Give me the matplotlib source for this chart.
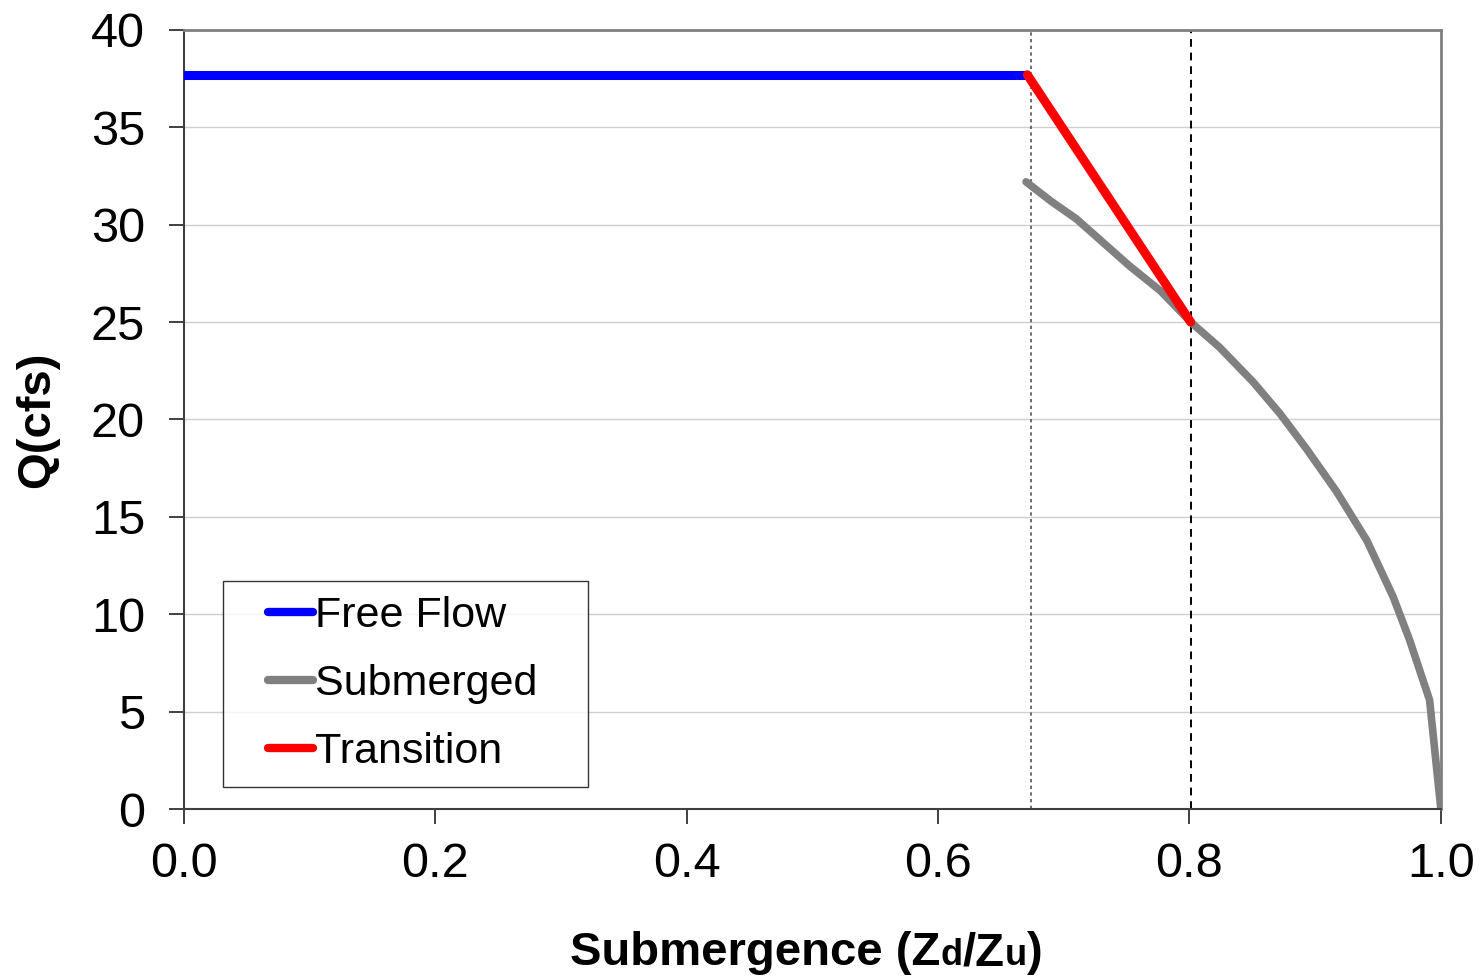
import matplotlib
matplotlib.use("Agg")
import matplotlib.pyplot as plt
from matplotlib.legend_handler import HandlerLine2D

plt.rcParams['font.family'] = ['Liberation Sans', 'DejaVu Sans']

# Data
free_x = [0.0, 0.671]
free_q = [37.7, 37.7]

trans_x = [0.671, 0.801]
trans_q = [37.7, 25.0]

sub_x = [0.670, 0.690, 0.710, 0.731, 0.752, 0.777, 0.801, 0.824, 0.851, 0.872,
         0.893, 0.917, 0.941, 0.962, 0.975, 0.991, 1.000]
sub_q = [32.2, 31.2, 30.3, 29.1, 27.9, 26.6, 25.0, 23.7, 21.9, 20.3,
         18.5, 16.3, 13.8, 10.9, 8.7, 5.6, 0.0]

vline_dotted = 0.674
vline_dashed = 0.801

xticks = [0.0, 0.2, 0.4, 0.6, 0.8, 1.0]
yticks = [0, 5, 10, 15, 20, 25, 30, 35, 40]


class OffsetHandler(HandlerLine2D):
    def get_xdata(self, legend, xdescent, ydescent, width, height, fontsize):
        x0 = -xdescent + width * 0.4
        x1 = width - xdescent
        return [x0, x1], [x0, x1]


fig = plt.figure(figsize=(14.81, 9.76), dpi=100)
ax = fig.add_axes([0.1242, 0.1711, 0.8487, 0.7982])

ax.set_xlim(0, 1.0)
ax.set_ylim(0, 40)
ax.set_yticks(yticks)
ax.set_xticks(xticks)
ax.set_xticklabels([f"{v:.1f}" for v in xticks])
ax.yaxis.grid(True, color='#cfcfcf', linewidth=1.0)
ax.set_axisbelow(True)

ax.axvline(vline_dotted, color='#555555', linestyle=(0, (2, 2)), linewidth=1.2, zorder=1)
ax.axvline(vline_dashed, color='black', linestyle=(0, (4, 3)), linewidth=1.4, zorder=1)

ax.plot(free_x, free_q, color='#0000ff', linewidth=6.5, solid_capstyle='round', label='Free Flow', zorder=3)
ax.plot(sub_x, sub_q, color='#808080', linewidth=5.5, solid_capstyle='round',
        solid_joinstyle='round', label='Submerged   ', zorder=2)
ax.plot(trans_x, trans_q, color='#ff0000', linewidth=6.5, solid_capstyle='round', label='Transition', zorder=4)

for s in ['top', 'right']:
    ax.spines[s].set_color('#808080')
    ax.spines[s].set_linewidth(2)
for s in ['left', 'bottom']:
    ax.spines[s].set_color('#404040')
    ax.spines[s].set_linewidth(1.5)

ax.tick_params(axis='both', direction='out', length=11, width=1.2, color='#202020',
               labelsize=35)
ax.tick_params(axis='y', pad=17)
ax.tick_params(axis='x', pad=13)

ax.set_ylabel('Q(cfs)', fontsize=34, fontweight='bold', labelpad=23)

leg = ax.legend(loc='lower left', bbox_to_anchor=(0.031, 0.028), fontsize=31,
                frameon=True, fancybox=False, edgecolor='black', handlelength=1.74,
                handletextpad=0.05, borderpad=0.35, labelspacing=0.65,
                borderaxespad=0, handler_map={plt.Line2D: OffsetHandler()})
leg.get_frame().set_linewidth(1.0)
for ln in leg.get_lines():
    ln.set_linewidth(6)

# x label with smaller d/u
fig.canvas.draw()
r = fig.canvas.get_renderer()
pieces = [("Submergence (Z", 34, 'bold'), ("d", 26, 'bold'), ("/Z", 34, 'bold'),
          ("u", 26, 'bold'), (")", 34, 'bold')]
texts = []
x0 = 0
base_y = 1 - 965 / 976
for s, fs, fw in pieces:
    t = fig.text(x0, base_y, s, fontsize=fs, fontweight=fw, va='baseline', ha='left')
    texts.append(t)
    bb = t.get_window_extent(r)
    x0 = x0 + bb.width / fig.bbox.width
total = x0
center = 806 / 1481
xx = center - total / 2
for t in texts:
    bb = t.get_window_extent(r)
    t.set_x(xx)
    xx += bb.width / fig.bbox.width

fig.savefig('out.png', dpi=100)
